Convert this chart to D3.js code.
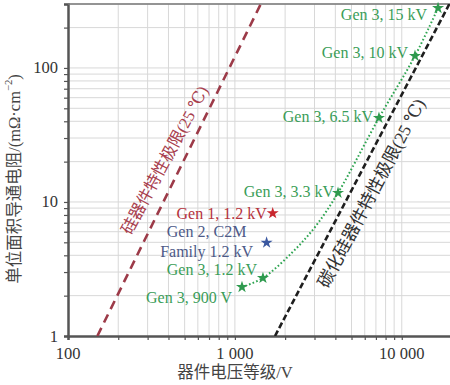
<!DOCTYPE html>
<html>
<head>
<meta charset="utf-8">
<script src="https://cdn.jsdelivr.net/npm/d3@7"></script>
<style>
	body { margin: 0; background: #fff; }
</style>
</head>
<body>
<div id="chart"></div>
<script>
// 单位面积导通电阻 vs 器件电压等级, log-log

const siLimitV = [150, 1430];
const siLimitR = [1, 300];
const sicLimitV = [1740, 20000];
const sicLimitR = [1, 327];

// Gen 3 dotted trend (stars + points)
const gen3CurveV = [1103, 1473, 2188, 3020, 4150, 7300, 12000, 16500];
const gen3CurveR = [2.32, 2.71, 4.16, 6.5, 11.7, 42.4, 123, 280];

const gen3Labels = ["Gen 3, 900 V", "Gen 3, 1.2 kV", "Gen 3, 3.3 kV", "Gen 3, 6.5 kV", "Gen 3, 10 kV", "Gen 3, 15 kV"];
const gen3V = [1103, 1473, 4150, 7300, 12000, 16500];
const gen3R = [2.32, 2.71, 11.7, 42.4, 123, 280];

const gen1Label = "Gen 1, 1.2 kV";
const gen1V = 1685;
const gen1R = 8.24;

const gen2Labels = ["Gen 2, C2M", "Family 1.2 kV"];
const gen2V = 1549;
const gen2R = 4.97;

const xTickValues = [100, 1000, 10000];
const xTickLabels = ["100", "1 000", "10 000"];
const yTickValues = [1, 10, 100];
const yTickLabels = ["1", "10", "100"];

const width = 450;
const height = 385;
const fs = 16.5;
const labelFs = 16;
const serif = "'Liberation Serif', 'Times New Roman', 'DejaVu Serif', 'Noto Sans CJK SC', serif";

const green = "#3a9d58";
const red = "#b5323c";
const blue = "#4d5a88";

// label nudges relative to star (dx = gap to text end, dy = vertical)
const nudge = {
	"Gen 3, 900 V": [-10, 10],
	"Gen 3, 1.2 kV": [-6, -8],
	"Gen 3, 3.3 kV": [-4, -1],
	"Gen 3, 6.5 kV": [-6, -1],
	"Gen 3, 10 kV": [-7, -3],
	"Gen 3, 15 kV": [-11, 6],
};

const x = d3.scaleLog().domain([100, 20000]).range([68, 452]);
const y = d3.scaleLog().domain([1, 300]).range([336, 4]);

const svg = d3.select("#chart")
	.append("svg")
	.attr("width", width)
	.attr("height", height)
	.style("font-family", serif);

svg.append("clipPath")
	.attr("id", "clip")
	.append("rect")
	.attr("x", x.range()[0])
	.attr("y", y.range()[1])
	.attr("width", x.range()[1] - x.range()[0])
	.attr("height", y.range()[0] - y.range()[1]);

// grid
const xGrid = x.ticks().filter((d) => d > 100);
const yGrid = y.ticks().filter((d) => d > 1);

svg.append("g")
	.selectAll("line")
	.data(xGrid)
	.join("line")
	.attr("x1", (d) => x(d))
	.attr("x2", (d) => x(d))
	.attr("y1", y.range()[0])
	.attr("y2", y.range()[1])
	.attr("stroke", "#d8d8d8")
	.attr("stroke-width", 1);

svg.append("g")
	.selectAll("line")
	.data(yGrid)
	.join("line")
	.attr("x1", x.range()[0])
	.attr("x2", x.range()[1])
	.attr("y1", (d) => y(d))
	.attr("y2", (d) => y(d))
	.attr("stroke", "#d8d8d8")
	.attr("stroke-width", 1);

// axes
const xAxis = svg.append("g")
	.attr("transform", `translate(0, ${y.range()[0]})`)
	.call(d3.axisBottom(x).tickValues(x.ticks()).tickSize(4).tickFormat(""));
xAxis.select(".domain").attr("stroke", "#555").attr("stroke-width", 2.5);
xAxis.selectAll(".tick line").attr("stroke", "#555").attr("stroke-width", 1.2);

const yAxis = svg.append("g")
	.attr("transform", `translate(${x.range()[0]}, 0)`)
	.call(d3.axisLeft(y).tickValues(y.ticks()).tickSize(4).tickFormat(""));
yAxis.select(".domain").attr("stroke", "#555").attr("stroke-width", 2.5);
yAxis.selectAll(".tick line").attr("stroke", "#555").attr("stroke-width", 1.2);

svg.append("line")
	.attr("x1", x.range()[0])
	.attr("x2", x.range()[1])
	.attr("y1", y.range()[1])
	.attr("y2", y.range()[1])
	.attr("stroke", "#777")
	.attr("stroke-width", 1.5);

// tick labels
svg.append("g")
	.selectAll("text")
	.data(xTickValues)
	.join("text")
	.attr("x", (d) => x(d))
	.attr("y", 353)
	.attr("text-anchor", "middle")
	.attr("dominant-baseline", "central")
	.attr("font-family", serif)
	.attr("font-size", fs)
	.attr("fill", "#333")
	.text((d, i) => xTickLabels[i]);

svg.append("g")
	.selectAll("text")
	.data(yTickValues)
	.join("text")
	.attr("x", 58)
	.attr("y", (d) => y(d))
	.attr("text-anchor", "end")
	.attr("dominant-baseline", "central")
	.attr("font-family", serif)
	.attr("font-size", fs)
	.attr("fill", "#333")
	.text((d, i) => yTickLabels[i]);

// axis titles
svg.append("text")
	.attr("x", x(1000))
	.attr("y", 372)
	.attr("text-anchor", "middle")
	.attr("dominant-baseline", "central")
	.attr("font-family", serif)
	.attr("font-size", fs)
	.attr("fill", "#444")
	.text("器件电压等级/V");

const yTitle = svg.append("text")
	.attr("transform", "translate(14, 179) rotate(-90)")
	.attr("text-anchor", "middle")
	.attr("dominant-baseline", "central")
	.attr("font-family", serif)
	.attr("font-size", fs)
	.attr("fill", "#444");
yTitle.append("tspan").text("单位面积导通电阻/(mΩ·cm");
yTitle.append("tspan").attr("font-size", fs * 0.65).attr("dy", -6).text("−2");
yTitle.append("tspan").attr("dy", 6).text(")");

// limit lines
const plot = svg.append("g").attr("clip-path", "url(#clip)");

const line = d3.line().x((d) => x(d[0])).y((d) => y(d[1]));

plot.append("path")
	.datum(d3.zip(siLimitV, siLimitR))
	.attr("d", line)
	.attr("fill", "none")
	.attr("stroke", "#9c3a48")
	.attr("stroke-width", 2.6)
	.attr("stroke-dasharray", "9,6");

plot.append("path")
	.datum(d3.zip(sicLimitV, sicLimitR))
	.attr("d", line)
	.attr("fill", "none")
	.attr("stroke", "#1e1e1e")
	.attr("stroke-width", 2.6)
	.attr("stroke-dasharray", "6,3");

plot.append("path")
	.datum(d3.zip(gen3CurveV, gen3CurveR))
	.attr("d", line.curve(d3.curveCatmullRom))
	.attr("fill", "none")
	.attr("stroke", "#2fa552")
	.attr("stroke-width", 2)
	.attr("stroke-dasharray", "1.6,2.2");

// rotated limit labels
const angleOf = (vs, rs) => {
	const dx = x(vs[1]) - x(vs[0]);
	const dy = y(rs[1]) - y(rs[0]);
	return (Math.atan2(dy, dx) * 180) / Math.PI;
};
const pointAt = (vs, rs, t) => {
	const lx = Math.log10(vs[0]) + t * (Math.log10(vs[1]) - Math.log10(vs[0]));
	const ly = Math.log10(rs[0]) + t * (Math.log10(rs[1]) - Math.log10(rs[0]));
	return [x(10 ** lx), y(10 ** ly)];
};

const siP = pointAt(siLimitV, siLimitR, 0.505);
svg.append("text")
	.attr("transform", `translate(${siP[0]}, ${siP[1]}) rotate(${angleOf(siLimitV, siLimitR) + 2})`)
	.attr("text-anchor", "middle")
	.attr("dominant-baseline", "central")
	.attr("dy", -17)
	.attr("font-family", serif)
	.attr("font-size", fs)
	.attr("fill", "#a8404e")
	.text("硅器件特性极限(25 ℃)");

const sicP = pointAt(sicLimitV, sicLimitR, 0.45);
svg.append("text")
	.attr("transform", `translate(${sicP[0]}, ${sicP[1]}) rotate(${angleOf(sicLimitV, sicLimitR)})`)
	.attr("text-anchor", "middle")
	.attr("dominant-baseline", "central")
	.attr("dy", 19)
	.attr("font-family", serif)
	.attr("font-size", 17.5)
	.attr("fill", "#333")
	.text("碳化硅器件特性极限(25 ℃)");

// stars
const star = d3.symbol().type(d3.symbolStar).size(45);

svg.append("g")
	.selectAll("path")
	.data(d3.zip(gen3V, gen3R))
	.join("path")
	.attr("transform", (d) => `translate(${x(d[0])}, ${y(d[1])})`)
	.attr("d", star)
	.attr("fill", "#2e9a4e");

svg.append("path")
	.attr("transform", `translate(${x(gen1V)}, ${y(gen1R)})`)
	.attr("d", star)
	.attr("fill", "#c8262e");

svg.append("path")
	.attr("transform", `translate(${x(gen2V)}, ${y(gen2R)})`)
	.attr("d", star)
	.attr("fill", "#3b58a0");

// point labels
svg.append("g")
	.selectAll("text")
	.data(gen3Labels)
	.join("text")
	.attr("x", (d, i) => x(gen3V[i]) + nudge[d][0])
	.attr("y", (d, i) => y(gen3R[i]) + nudge[d][1])
	.attr("text-anchor", "end")
	.attr("dominant-baseline", "central")
	.attr("font-family", serif)
	.attr("font-size", labelFs)
	.attr("fill", green)
	.text((d) => d);

svg.append("text")
	.attr("x", x(gen1V) - 6)
	.attr("y", y(gen1R))
	.attr("text-anchor", "end")
	.attr("dominant-baseline", "central")
	.attr("font-family", serif)
	.attr("font-size", labelFs)
	.attr("fill", red)
	.text(gen1Label);

svg.append("g")
	.selectAll("text")
	.data(gen2Labels)
	.join("text")
	.attr("x", x(gen2V) - 60)
	.attr("y", (d, i) => y(gen2R) + (i === 0 ? -11 : 9))
	.attr("text-anchor", "middle")
	.attr("dominant-baseline", "central")
	.attr("font-family", serif)
	.attr("font-size", labelFs)
	.attr("fill", blue)
	.text((d) => d);
</script>
</body>
</html>
